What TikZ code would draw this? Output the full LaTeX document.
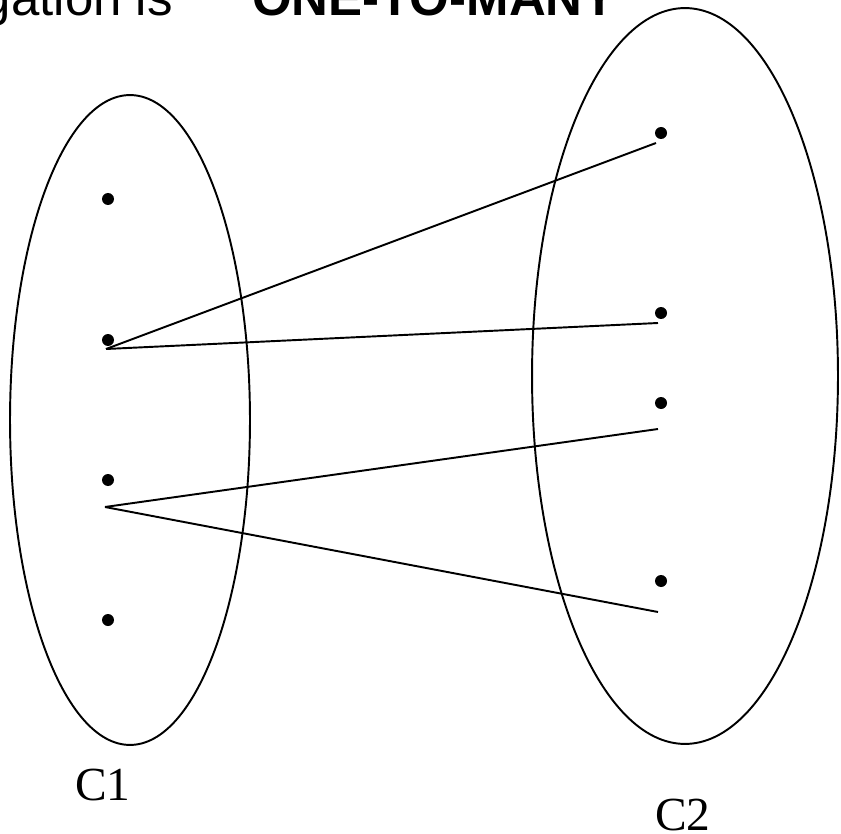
\documentclass[tikz,border=0pt]{standalone}
\usepackage{fontspec}
\setmainfont{Liberation Serif}
\newfontfamily\arialfont{Liberation Sans}
\usetikzlibrary{positioning,shapes.geometric}

\begin{document}
\begin{tikzpicture}[x=0.02cm, y=-0.02cm,
  dot/.style={circle, fill=black, inner sep=0pt, minimum size=0.24cm},
  setshape/.style={draw, ellipse, line width=1.1pt, inner sep=0pt},
  link/.style={line width=1.1pt},
  setname/.style={font=\fontsize{27}{32}\selectfont, inner sep=0pt, anchor=base},
  heading/.style={font=\arialfont\fontsize{29}{35}\selectfont, inner sep=0pt},
]
  \useasboundingbox (0,0) rectangle (841,834);
  \clip (0,0) rectangle (841,834);

  % the two sets
  \node[setshape, minimum width=4.8cm, minimum height=13cm] (c1set) at (130,420) {};
  \node[setshape, minimum width=6.12cm, minimum height=14.72cm] (c2set) at (685,376) {};

  % elements of C1
  \node[dot] (a1) at (108,199) {};
  \node[dot] (a2) at (108,340) {};
  \node[dot] (a3) at (108,480) {};
  \node[dot] (a4) at (108,620) {};

  % elements of C2
  \node[dot] (b1) at (661,133) {};
  \node[dot] (b2) at (661,313) {};
  \node[dot] (b3) at (661,403) {};
  \node[dot] (b4) at (661,581) {};

  \coordinate (a2s) at (106,349);
  \coordinate (a3s) at (105,507);
  \coordinate (b1e) at (656,143);
  \coordinate (b2e) at (658,323);
  \coordinate (b3e) at (658,429);
  \coordinate (b4e) at (658,612);

  \draw[link] (a2s) -- (b1e);
  \draw[link] (a2s) -- (b2e);
  \draw[link] (a3s) -- (b3e);
  \draw[link] (a3s) -- (b4e);

  \node[setname] (c1) at (103,800) {C1};
  \node[setname] (c2) at (683,830) {C2};

  \node[heading, anchor=base east] (kind) at (173,16) {gation is};
  \node[heading, anchor=base west, font=\arialfont\bfseries\fontsize{29}{35}\selectfont] (many) at (252,16) {ONE-TO-MANY};
\end{tikzpicture}
\end{document}
